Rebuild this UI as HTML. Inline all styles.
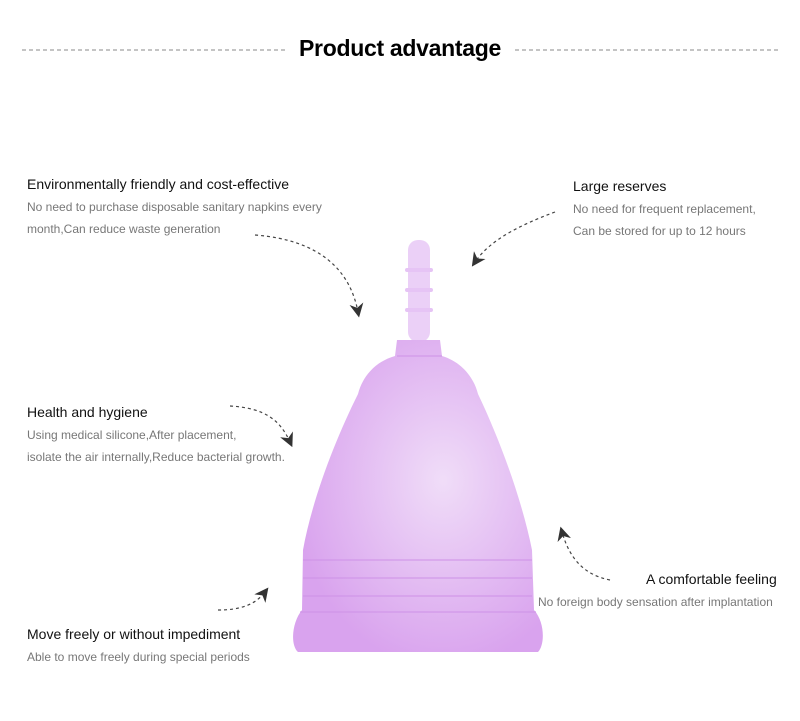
<!DOCTYPE html>
<html><head><meta charset="utf-8"><style>
body{margin:0;background:#fff;width:800px;height:721px;overflow:hidden;position:relative;font-family:"Liberation Sans",sans-serif}
.t{position:absolute;font-size:14px;color:#111}
.d{position:absolute;font-size:12px;color:#777;line-height:22px}
</style></head><body>
<svg width="800" height="721" style="position:absolute;left:0;top:0">
<defs>
<radialGradient id="g" cx="0.6" cy="0.45" r="0.6"><stop offset="0" stop-color="#f0ddf8"/><stop offset="1" stop-color="#d9a3ee"/></radialGradient>
<marker id="a" viewBox="0 0 10 10" refX="6" refY="5" markerWidth="14" markerHeight="14" markerUnits="userSpaceOnUse" orient="auto"><path d="M0,0L10,5L0,10L3,5z" fill="#333"/></marker>
</defs>
<line x1="22" y1="50" x2="285" y2="50" stroke="#888" stroke-dasharray="4,3"/>
<line x1="515" y1="50" x2="778" y2="50" stroke="#888" stroke-dasharray="4,3"/>
<rect x="408" y="240" width="22" height="102" rx="10" fill="#ebd0f7"/>
<g fill="#e6c4f5"><rect x="405" y="268" width="28" height="4" rx="2"/><rect x="405" y="288" width="28" height="4" rx="2"/><rect x="405" y="308" width="28" height="4" rx="2"/></g>
<path d="M397,340 L440,340 L442,356 C462,362 474,378 478,394 C500,440 522,500 532,550 L534,610 C545,622 545,645 538,652 L298,652 C290,645 292,622 302,610 L303,550 C312,500 335,440 358,394 C362,378 374,362 395,356 Z" fill="url(#g)"/>
<g stroke="#cf94e8" stroke-width="1.5" fill="none" opacity=".7">
<line x1="397" y1="356" x2="442" y2="356"/>
<line x1="303" y1="560" x2="532" y2="560"/><line x1="303" y1="578" x2="532" y2="578"/><line x1="303" y1="596" x2="532" y2="596"/><line x1="300" y1="612" x2="536" y2="612"/>
</g>
<g stroke="#444" stroke-dasharray="3,3" fill="none" stroke-width="1.2" marker-end="url(#a)">
<path d="M255,235 C320,240 350,270 358,312"/>
<path d="M555,212 C520,225 490,240 475,262"/>
<path d="M230,406 C265,408 280,420 290,442"/>
<path d="M610,580 C585,575 570,560 562,532"/>
<path d="M218,610 C240,610 255,605 265,592"/>
</g>
</svg>
<div style="position:absolute;left:0;width:800px;top:35px;text-align:center;font-size:23px;font-weight:bold;color:#000;letter-spacing:-0.3px">Product advantage</div>
<div class="t" style="left:27px;top:176px">Environmentally friendly and cost-effective</div>
<div class="d" style="left:27px;top:196px">No need to purchase disposable sanitary napkins every<br>month,Can reduce waste generation</div>
<div class="t" style="left:573px;top:178px">Large reserves</div>
<div class="d" style="left:573px;top:198px">No need for frequent replacement,<br>Can be stored for up to 12 hours</div>
<div class="t" style="left:27px;top:404px">Health and hygiene</div>
<div class="d" style="left:27px;top:424px">Using medical silicone,After placement,<br>isolate the air internally,Reduce bacterial growth.</div>
<div class="t" style="left:646px;top:571px">A comfortable feeling</div>
<div class="d" style="left:538px;top:591px">No foreign body sensation after implantation</div>
<div class="t" style="left:27px;top:626px">Move freely or without impediment</div>
<div class="d" style="left:27px;top:646px">Able to move freely during special periods</div>
</body></html>
